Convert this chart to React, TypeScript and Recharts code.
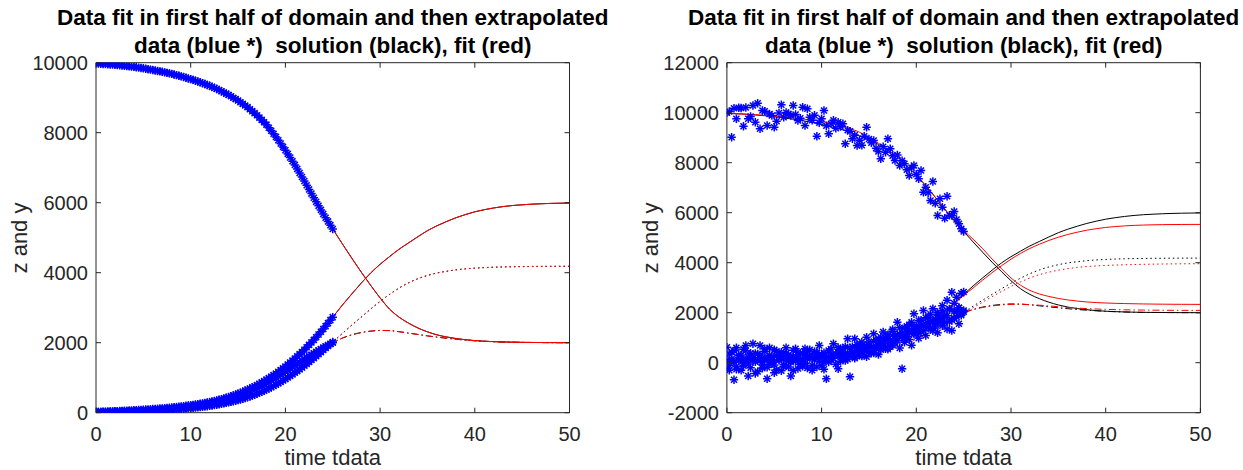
import React from "react";
import { ComposedChart, Line, Scatter, XAxis, YAxis, ReferenceLine } from "recharts";

// time grids
const lineTimes = Array.from({ length: 51 }, (_, i) => i);
const dataTimes = Array.from({ length: 101 }, (_, i) => i / 4);

// tick labels
const xTicks = [0, 10, 20, 30, 40, 50];
const leftYTicks = [0, 2000, 4000, 6000, 8000, 10000];
const rightYTicks = [-2000, 0, 2000, 4000, 6000, 8000, 10000, 12000];

// title lines
const titleLines = [
  "Data fit in first half of domain and then extrapolated",
  "data (blue *)  solution (black), fit (red)",
];

// solution (black), t = 0..50
const solDown = [9980, 9960, 9940, 9910, 9880, 9840, 9790, 9740, 9680, 9610, 9530, 9440, 9340, 9220, 9080, 8920, 8730, 8500, 8230, 7880, 7500, 7080, 6620, 6140, 5680, 5250, 4830, 4420, 4020, 3640, 3280, 2960, 2730, 2560, 2420, 2310, 2225, 2165, 2120, 2085, 2060, 2042, 2030, 2021, 2015, 2010, 2007, 2005, 2003, 2002, 2000];
const solUp = [20, 30, 40, 55, 70, 85, 105, 125, 150, 180, 215, 255, 305, 370, 450, 545, 660, 790, 945, 1120, 1320, 1550, 1800, 2080, 2390, 2730, 3070, 3390, 3700, 3990, 4240, 4460, 4670, 4850, 5030, 5200, 5340, 5460, 5570, 5660, 5740, 5800, 5850, 5890, 5920, 5940, 5958, 5970, 5980, 5986, 5990];
const solDotted = [10, 15, 20, 28, 36, 45, 56, 70, 85, 105, 130, 160, 195, 240, 295, 360, 440, 540, 660, 800, 960, 1140, 1340, 1560, 1790, 2020, 2260, 2500, 2730, 2960, 3180, 3380, 3560, 3710, 3830, 3920, 3990, 4040, 4080, 4110, 4130, 4145, 4157, 4165, 4170, 4175, 4178, 4180, 4182, 4183, 4184];
const solDashDot = [20, 25, 30, 36, 44, 54, 66, 82, 102, 128, 160, 200, 250, 310, 385, 475, 580, 705, 845, 1000, 1170, 1350, 1530, 1700, 1860, 2000, 2130, 2225, 2290, 2330, 2350, 2345, 2315, 2275, 2235, 2195, 2160, 2128, 2100, 2075, 2055, 2040, 2028, 2019, 2013, 2009, 2006, 2004, 2002, 2001, 2000];

// fit (red) for the noisy panel, t = 0..50
const fitDown = [9970, 9955, 9940, 9920, 9895, 9865, 9830, 9790, 9745, 9700, 9650, 9580, 9490, 9370, 9220, 9010, 8780, 8520, 8220, 7880, 7500, 7080, 6620, 6150, 5700, 5290, 4940, 4560, 4150, 3760, 3390, 3100, 2890, 2750, 2650, 2570, 2510, 2465, 2430, 2405, 2388, 2375, 2365, 2357, 2350, 2345, 2341, 2338, 2336, 2334, 2332];
const fitUp = [30, 40, 50, 62, 75, 90, 108, 128, 152, 180, 213, 252, 300, 360, 435, 525, 635, 765, 915, 1090, 1290, 1515, 1765, 2045, 2355, 2690, 2990, 3300, 3600, 3880, 4140, 4370, 4570, 4740, 4890, 5020, 5130, 5220, 5300, 5360, 5410, 5445, 5472, 5492, 5506, 5516, 5522, 5526, 5529, 5531, 5532];
const fitDotted = [10, 15, 20, 27, 35, 44, 55, 68, 83, 102, 126, 155, 190, 233, 286, 350, 428, 525, 642, 780, 935, 1110, 1305, 1520, 1745, 1980, 2200, 2420, 2640, 2850, 3050, 3230, 3390, 3520, 3620, 3700, 3760, 3810, 3845, 3870, 3890, 3905, 3917, 3927, 3935, 3942, 3948, 3952, 3956, 3958, 3960];
const fitDashDot = [20, 25, 30, 36, 44, 54, 66, 82, 102, 128, 160, 200, 250, 310, 385, 475, 578, 700, 838, 990, 1160, 1340, 1520, 1695, 1860, 2000, 2120, 2210, 2270, 2310, 2330, 2335, 2325, 2300, 2270, 2240, 2210, 2185, 2165, 2148, 2135, 2124, 2116, 2110, 2105, 2101, 2098, 2096, 2094, 2093, 2092];

// clean data (left panel), t = 0..25 step 0.25
const cleanDown = [9980, 9975, 9970, 9965, 9960, 9955, 9950, 9945, 9940, 9932, 9925, 9918, 9910, 9902, 9895, 9888, 9880, 9870, 9860, 9850, 9840, 9828, 9815, 9802, 9790, 9778, 9765, 9752, 9740, 9725, 9710, 9695, 9680, 9662, 9645, 9628, 9610, 9590, 9570, 9550, 9530, 9508, 9485, 9462, 9440, 9415, 9390, 9365, 9340, 9310, 9280, 9250, 9220, 9185, 9150, 9115, 9080, 9040, 9000, 8960, 8920, 8872, 8825, 8778, 8730, 8672, 8615, 8558, 8500, 8432, 8365, 8298, 8230, 8142, 8055, 7968, 7880, 7785, 7690, 7595, 7500, 7395, 7290, 7185, 7080, 6965, 6850, 6735, 6620, 6500, 6380, 6260, 6140, 6025, 5910, 5795, 5680, 5572, 5465, 5358, 5250];
const cleanUp = [20, 22, 25, 28, 30, 32, 35, 38, 40, 44, 47, 51, 55, 58, 62, 66, 70, 74, 78, 82, 85, 90, 95, 100, 105, 110, 115, 120, 125, 131, 137, 143, 150, 157, 165, 172, 180, 188, 197, 206, 215, 225, 235, 245, 255, 267, 280, 292, 305, 320, 335, 352, 370, 389, 408, 429, 450, 472, 495, 520, 545, 572, 600, 630, 660, 691, 723, 756, 790, 827, 865, 905, 945, 987, 1030, 1075, 1120, 1168, 1218, 1268, 1320, 1376, 1433, 1491, 1550, 1611, 1673, 1736, 1800, 1868, 1938, 2008, 2080, 2156, 2233, 2311, 2390, 2473, 2558, 2644, 2730];
const cleanDotted = [10, 11, 12, 14, 15, 16, 17, 19, 20, 22, 24, 26, 28, 30, 32, 34, 36, 38, 40, 42, 45, 47, 50, 53, 56, 59, 63, 66, 70, 73, 77, 81, 85, 90, 95, 100, 105, 111, 117, 123, 130, 137, 145, 152, 160, 168, 177, 186, 195, 206, 217, 228, 240, 253, 267, 281, 295, 310, 326, 343, 360, 379, 398, 419, 440, 464, 488, 514, 540, 569, 598, 629, 660, 694, 728, 764, 800, 839, 878, 919, 960, 1004, 1048, 1094, 1140, 1189, 1238, 1289, 1340, 1394, 1448, 1504, 1560, 1616, 1673, 1731, 1790, 1848, 1905, 1962, 2020];
const cleanDashDot = [20, 21, 22, 24, 25, 26, 27, 29, 30, 31, 33, 34, 36, 38, 40, 42, 44, 46, 49, 51, 54, 57, 60, 63, 66, 70, 74, 78, 82, 87, 92, 97, 102, 108, 115, 121, 128, 135, 143, 151, 160, 170, 180, 190, 200, 212, 224, 237, 250, 264, 279, 294, 310, 328, 346, 365, 385, 406, 428, 451, 475, 500, 526, 553, 580, 610, 641, 673, 705, 739, 773, 809, 845, 883, 921, 960, 1000, 1042, 1084, 1127, 1170, 1214, 1259, 1305, 1350, 1395, 1440, 1485, 1530, 1573, 1616, 1658, 1700, 1741, 1781, 1821, 1860, 1896, 1932, 1966, 2000];

// noisy data (right panel), t = 0..25 step 0.25
const noisyDown = [10000, 10050, 9020, 10180, 9760, 10200, 10190, 9460, 10210, 9760, 9850, 10290, 9620, 10380, 9360, 10090, 10060, 9490, 9950, 9890, 9420, 9660, 9990, 10320, 9820, 10010, 9960, 9890, 10290, 9930, 9690, 9780, 10220, 9490, 10160, 9820, 9700, 9900, 9060, 9600, 9760, 10090, 9480, 9160, 9560, 9700, 9380, 9620, 9450, 9560, 8760, 9300, 9260, 8960, 9100, 8690, 8900, 8700, 9060, 9420, 8950, 8800, 8890, 8580, 8450, 8160, 8640, 8420, 8960, 8560, 8280, 8090, 8310, 7890, 8080, 7960, 7720, 7490, 7800, 7890, 7540, 7360, 7690, 6820, 7020, 6800, 6490, 7250, 6380, 5890, 6560, 6220, 5780, 6660, 5900, 5890, 6050, 5730, 5560, 5360, 5250];
const noisyUp = [620, -300, 150, -680, 600, 80, 310, -120, 690, -530, 230, 760, 40, 350, 690, -90, 190, -640, 600, 20, -400, 280, 110, 420, -150, 330, 60, -530, 250, 560, 140, -60, 380, 560, -210, 300, 190, 450, -170, 690, 260, 20, -640, 410, 190, 760, 330, -240, 520, 240, 640, 960, -560, 450, 960, 610, 300, 830, 520, 1020, 700, 380, 1160, 640, 910, 520, 1230, 880, 1060, 640, 1330, 960, 1620, 1150, -240, 1380, 1060, 1520, 1250, 1960, 1480, 1180, 1700, 2090, 1560, 1820, 1390, 2160, 1720, 2010, 1600, 2280, 1900, 2500, 2150, 2820, 2380, 2620, 2200, 2780, 2830];
const noisyDotted = [-240, 350, 60, 480, -150, 220, -300, 540, 120, -50, 380, 200, -430, 90, 310, -220, 450, 150, -60, 260, 520, -280, 130, 350, -80, 600, 180, 20, -310, 240, 420, 90, -140, 310, 160, 520, -100, 250, 400, 60, 320, -260, 180, 490, 120, 300, -60, 420, 220, 570, 90, 380, 260, 640, 180, 450, 720, 330, 560, 240, 680, 420, 850, 560, 330, 780, 620, 980, 540, 860, 700, 1100, 880, 590, 1050, 820, 1240, 930, 700, 1150, 1350, 980, 1260, 1500, 1090, 1400, 1650, 1280, 1560, 1200, 1720, 1480, 1860, 1350, 1640, 1290, 1780, 2060, 1560, 1900, 2090];
const noisyDashDot = [120, -110, 420, 30, -260, 300, 170, -40, 480, 230, -200, 100, 370, -350, 210, 40, 560, -180, 300, 120, -90, 460, 250, -320, 150, 380, -170, 220, 500, 60, -230, 340, 150, -20, 470, 230, -300, 120, 380, 240, -110, 400, 230, 30, 550, 170, 350, 610, 60, 420, 290, 140, 600, 380, 240, 720, 510, 270, 680, 450, 830, 620, 390, 900, 700, 1020, 760, 560, 1120, 910, 1260, 800, 1080, 1400, 1190, 960, 1460, 1250, 1620, 1380, 1150, 1690, 1480, 1280, 1800, 1560, 1940, 1680, 1430, 1900, 1760, 2080, 1620, 1880, 2130, 1720, 2050, 1840, 2200, 1960, 2040];

const toPoints = (ts: number[], vs: number[]) => ts.map((t, i) => ({ t, v: vs[i] }));

const FONT = '"Liberation Sans", Arial, Helvetica, sans-serif';
const AXIS = "#262626";
const PLOT_TOP = 62.7;
const PLOT_BOTTOM = 412.7;
const PLOT_W = 473.5;
const Y_AXIS_W = 60;
const X_AXIS_H = 40;
const TICK_FS = 20;
const LABEL_FS = 22;

const DOTTED = "1.5 3";
const DASHDOT = "7 3 1.5 3";

// MATLAB-style '*' marker
const Asterisk = (props: any) => {
  const { cx, cy } = props;
  if (cx == null || cy == null) return null;
  const r = 4.2;
  const d = r * 0.72;
  return (
    <g stroke="#0000ff" strokeWidth={1.5}>
      <line x1={cx - r} y1={cy} x2={cx + r} y2={cy} />
      <line x1={cx} y1={cy - r} x2={cx} y2={cy + r} />
      <line x1={cx - d} y1={cy - d} x2={cx + d} y2={cy + d} />
      <line x1={cx - d} y1={cy + d} x2={cx + d} y2={cy - d} />
    </g>
  );
};

type Curve = { values: number[]; color: string; dash?: string };

type PanelProps = {
  offsetX: number;
  width: number;
  plotLeft: number;
  yDomain: [number, number];
  yTicks: number[];
  curves: Curve[];
  dataSets: number[][];
};

const Panel: React.FC<PanelProps> = ({ offsetX, width, plotLeft, yDomain, yTicks, curves, dataSets }) => {
  const plotRight = plotLeft + PLOT_W;
  const centerX = plotLeft + PLOT_W / 2;

  const XTick = (p: any) => (
    <g>
      <line x1={p.x} x2={p.x} y1={PLOT_BOTTOM} y2={PLOT_BOTTOM - 5} stroke={AXIS} />
      <line x1={p.x} x2={p.x} y1={PLOT_TOP} y2={PLOT_TOP + 5} stroke={AXIS} />
      <text x={p.x} y={PLOT_BOTTOM + 21} textAnchor="middle" dominantBaseline="central" fontSize={TICK_FS} fontFamily={FONT} fill={AXIS}>
        {p.payload.value}
      </text>
    </g>
  );

  const YTick = (p: any) => (
    <g>
      <line x1={plotLeft} x2={plotLeft + 5} y1={p.y} y2={p.y} stroke={AXIS} />
      <line x1={plotRight} x2={plotRight - 5} y1={p.y} y2={p.y} stroke={AXIS} />
      <text x={plotLeft - 8} y={p.y} textAnchor="end" dominantBaseline="central" fontSize={TICK_FS} fontFamily={FONT} fill={AXIS}>
        {p.payload.value}
      </text>
    </g>
  );

  return (
    <div style={{ position: "absolute", left: offsetX, top: 0, width, height: 470 }}>
      <ComposedChart
        width={width}
        height={470}
        margin={{ top: PLOT_TOP, right: width - plotRight, bottom: 470 - PLOT_BOTTOM - X_AXIS_H, left: plotLeft - Y_AXIS_W }}
      >
        <XAxis
          type="number"
          dataKey="t"
          domain={[0, 50]}
          ticks={xTicks}
          interval={0}
          allowDataOverflow
          height={X_AXIS_H}
          tickLine={false}
          tickSize={0}
          stroke={AXIS}
          tick={XTick}
        />
        <YAxis
          type="number"
          dataKey="v"
          domain={yDomain}
          ticks={yTicks}
          interval={0}
          allowDataOverflow
          width={Y_AXIS_W}
          tickLine={false}
          tickSize={0}
          stroke={AXIS}
          tick={YTick}
        />
        <ReferenceLine y={yDomain[1]} stroke={AXIS} />
        <ReferenceLine x={50} stroke={AXIS} />
        {curves.map((c, i) => (
          <Line
            key={`curve-${i}`}
            data={toPoints(lineTimes, c.values)}
            dataKey="v"
            type="monotone"
            stroke={c.color}
            strokeWidth={1}
            strokeDasharray={c.dash}
            dot={false}
            activeDot={false}
            isAnimationActive={false}
          />
        ))}
        {dataSets.map((vs, i) => (
          <Scatter
            key={`data-${i}`}
            data={toPoints(dataTimes, vs)}
            dataKey="v"
            shape={Asterisk}
            isAnimationActive={false}
          />
        ))}
      </ComposedChart>

      {/* Title, one div per line */}
      {titleLines.map((line, i) => (
        <div
          key={`title-${i}`}
          style={{
            position: "absolute",
            left: centerX,
            top: 18 + i * 27.5,
            transform: "translate(-50%, -50%)",
            fontFamily: FONT,
            fontWeight: "bold",
            fontSize: 22.5,
            lineHeight: "24px",
            whiteSpace: "pre",
            color: "#000",
          }}
        >
          {line}
        </div>
      ))}

      {/* Axis labels */}
      <div
        style={{
          position: "absolute",
          left: centerX,
          top: 458,
          transform: "translate(-50%, -50%)",
          fontFamily: FONT,
          fontSize: LABEL_FS,
          lineHeight: "24px",
          color: AXIS,
          whiteSpace: "nowrap",
        }}
      >
        time tdata
      </div>
      <div
        style={{
          position: "absolute",
          left: plotLeft - 76,
          top: (PLOT_TOP + PLOT_BOTTOM) / 2,
          transform: "translate(-50%, -50%) rotate(-90deg)",
          fontFamily: FONT,
          fontSize: LABEL_FS,
          lineHeight: "24px",
          color: AXIS,
          whiteSpace: "nowrap",
        }}
      >
        z and y
      </div>
    </div>
  );
};

const black = "#000000";
const red = "#ff0000";

const leftCurves: Curve[] = [
  { values: solDown, color: black },
  { values: solUp, color: black },
  { values: solDotted, color: black, dash: DOTTED },
  { values: solDashDot, color: black, dash: DASHDOT },
  { values: solDown, color: red },
  { values: solUp, color: red },
  { values: solDotted, color: red, dash: DOTTED },
  { values: solDashDot, color: red, dash: DASHDOT },
];

const rightCurves: Curve[] = [
  { values: solDown, color: black },
  { values: solUp, color: black },
  { values: solDotted, color: black, dash: DOTTED },
  { values: solDashDot, color: black, dash: DASHDOT },
  { values: fitDown, color: red },
  { values: fitUp, color: red },
  { values: fitDotted, color: red, dash: DOTTED },
  { values: fitDashDot, color: red, dash: DASHDOT },
];

export default function App() {
  return (
    <div style={{ position: "absolute", left: 0, top: 0, width: 1243, height: 470, background: "#fff" }}>
      <Panel
        offsetX={0}
        width={621}
        plotLeft={96}
        yDomain={[0, 10000]}
        yTicks={leftYTicks}
        curves={leftCurves}
        dataSets={[cleanDown, cleanUp, cleanDotted, cleanDashDot]}
      />
      <Panel
        offsetX={621}
        width={622}
        plotLeft={105.9}
        yDomain={[-2000, 12000]}
        yTicks={rightYTicks}
        curves={rightCurves}
        dataSets={[noisyDown, noisyUp, noisyDotted, noisyDashDot]}
      />
    </div>
  );
}
